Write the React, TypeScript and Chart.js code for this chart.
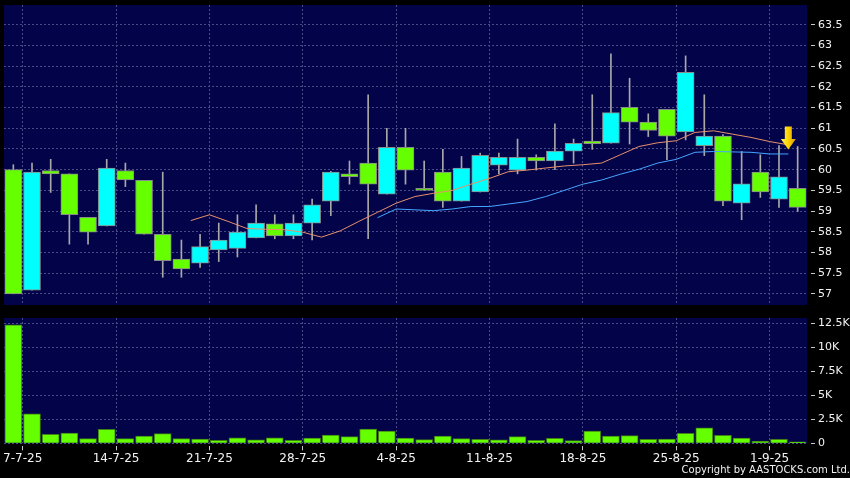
import React, { useEffect, useRef } from 'react';
import { Chart, registerables } from 'chart.js';

Chart.register(...registerables);

// ---------- data ----------
const DATES = [
  '7-7-25', '8-7-25', '9-7-25', '10-7-25', '11-7-25',
  '14-7-25', '15-7-25', '16-7-25', '17-7-25', '18-7-25',
  '21-7-25', '22-7-25', '23-7-25', '24-7-25', '25-7-25',
  '28-7-25', '29-7-25', '30-7-25', '31-7-25', '1-8-25',
  '4-8-25', '5-8-25', '6-8-25', '7-8-25', '8-8-25',
  '11-8-25', '12-8-25', '13-8-25', '14-8-25', '15-8-25',
  '18-8-25', '19-8-25', '20-8-25', '21-8-25', '22-8-25',
  '25-8-25', '26-8-25', '27-8-25', '28-8-25', '29-8-25',
  '1-9-25', '2-9-25', '3-9-25',
];

const OPEN = [
  60.0, 57.09, 59.98, 59.9, 58.85, 58.64, 59.98, 59.74, 58.44, 57.84,
  57.74, 58.06, 58.1, 58.35, 58.69, 58.4, 58.71, 59.24, 59.9, 60.16,
  59.41, 60.54, 59.55, 59.94, 59.24, 59.46, 60.11, 59.99, 60.3, 60.21,
  60.45, 60.69, 60.64, 61.51, 61.15, 61.46, 60.91, 60.58, 60.81, 59.19,
  59.94, 59.29, 59.55,
];
const HIGH = [
  60.12, 60.16, 60.25, 59.9, 58.85, 60.25, 60.16, 59.74, 59.94, 58.3,
  58.44, 58.71, 58.91, 59.15, 58.91, 58.91, 59.29, 59.96, 60.21, 61.81,
  61.0, 61.0, 60.21, 60.49, 60.32, 60.4, 60.4, 60.74, 60.36, 61.11,
  60.74, 61.81, 62.8, 62.21, 61.35, 61.46, 62.75, 61.81, 60.85, 60.44,
  60.36, 60.58, 60.56,
];
const LOW = [
  57.0, 57.09, 59.45, 58.2, 58.2, 58.64, 59.59, 58.44, 57.4, 57.4,
  57.64, 57.78, 57.89, 58.35, 58.33, 58.33, 58.3, 58.89, 59.65, 58.33,
  59.41, 59.65, 59.5, 59.09, 59.24, 59.46, 59.9, 59.9, 59.99, 60.0,
  60.16, 60.49, 60.64, 60.62, 60.8, 60.24, 60.72, 60.34, 59.13, 58.79,
  59.33, 59.09, 58.99,
];
const CLOSE = [
  57.0, 59.94, 59.9, 58.91, 58.49, 60.04, 59.75, 58.44, 57.8, 57.6,
  58.14, 58.3, 58.49, 58.71, 58.4, 58.71, 59.15, 59.94, 59.83, 59.65,
  60.54, 59.99, 59.5, 59.24, 60.04, 60.35, 60.3, 60.3, 60.21, 60.45,
  60.64, 60.63, 61.38, 61.15, 60.95, 60.81, 62.35, 60.81, 59.24, 59.66,
  59.46, 59.83, 59.09,
];
const VOLUME = [
  12320, 3050, 930, 1070, 490, 1450, 490, 760, 1000, 490,
  450, 310, 580, 350, 580, 310, 550, 860, 690, 1490,
  1280, 550, 380, 760, 490, 420, 350, 690, 310, 520,
  270, 1280, 760, 800, 420, 450, 1040, 1600, 830, 550,
  210, 420, 140,
];

const MA10_START = 9;
const MA10 = [
  58.77, 58.91, 58.75, 58.58, 58.56, 58.55, 58.49, 58.37, 58.52, 58.75,
  58.97, 59.19, 59.35, 59.43, 59.5, 59.65, 59.79, 59.95, 59.99, 60.04,
  60.09, 60.12, 60.16, 60.36, 60.56, 60.65, 60.7, 60.9, 60.94, 60.86,
  60.78, 60.68, 60.6,
];
const MA20_START = 19;
const MA20 = [
  58.84, 59.05, 59.03, 59.01, 59.05, 59.11, 59.11, 59.17, 59.23, 59.35,
  59.5, 59.65, 59.75, 59.89, 60.01, 60.16, 60.25, 60.42, 60.44, 60.43,
  60.42, 60.38, 60.38,
];

const WEEK_TICKS = [0, 5, 10, 15, 20, 25, 30, 35, 40];
const PRICE_TICKS = [57, 57.5, 58, 58.5, 59, 59.5, 60, 60.5, 61, 61.5, 62, 62.5, 63, 63.5];
const VOLUME_TICKS = [0, 2500, 5000, 7500, 10000, 12500];

const ARROW_INDEX = 41;
const ARROW_PRICE = 60.49;

const COPYRIGHT = 'Copyright by AASTOCKS.com Ltd.';

// ---------- axis ranges & styles ----------
const X_MIN = -1;
const X_MAX = 42;
const CANDLE_SHIFT = -0.5;
const PRICE_MIN = 56.73;
const PRICE_MAX = 63.98;
const VOLUME_MIN = 0;
const VOLUME_MAX = 13020;

const PLOT_BG = '#03034a';
const GRID = '#4a4a86';
const TICK = '#c8c8c8';
const TEXT = '#f2f2f2';
const UP = '#00ffff';
const DOWN = '#66ff00';
const BODY_BORDER = '#8a8a8a';
const WICK = '#a8a8a8';
const VOL_FILL = '#66ff00';
const VOL_BORDER = '#3f7f14';
const MA10_COLOR = '#e8906a';
const MA20_COLOR = '#45a6ff';

Chart.defaults.font.family = '"DejaVu Sans", sans-serif';

const plotBg = {
  id: 'plotBg',
  beforeDraw(chart: any) {
    const { ctx, chartArea: a } = chart;
    ctx.save();
    ctx.fillStyle = PLOT_BG;
    ctx.fillRect(a.left, a.top, a.right - a.left, a.bottom - a.top);
    ctx.restore();
  },
};

const arrowPlugin = {
  id: 'arrowMark',
  afterDatasetsDraw(chart: any) {
    const x = chart.scales.x.getPixelForValue(ARROW_INDEX);
    const tip = chart.scales.y.getPixelForValue(ARROW_PRICE);
    const ctx = chart.ctx;
    ctx.save();
    const g = ctx.createLinearGradient(x - 8, 0, x + 8, 0);
    g.addColorStop(0, '#fff37a');
    g.addColorStop(0.45, '#ffd800');
    g.addColorStop(1, '#d99500');
    ctx.beginPath();
    ctx.moveTo(x - 3.5, tip - 23);
    ctx.lineTo(x + 3.5, tip - 23);
    ctx.lineTo(x + 3.5, tip - 10.5);
    ctx.lineTo(x + 7.5, tip - 10.5);
    ctx.lineTo(x, tip);
    ctx.lineTo(x - 7.5, tip - 10.5);
    ctx.lineTo(x - 3.5, tip - 10.5);
    ctx.closePath();
    ctx.fillStyle = g;
    ctx.fill();
    ctx.restore();
  },
};

const weekTicks = (s: any) => {
  s.ticks = WEEK_TICKS.map((v) => ({ value: v }));
};

export default function App() {
  const priceRef = useRef<HTMLCanvasElement>(null);
  const volRef = useRef<HTMLCanvasElement>(null);

  useEffect(() => {
    document.body.style.margin = '0';
    document.body.style.background = '#000';

    const price = new Chart(priceRef.current as HTMLCanvasElement, {
      type: 'bar',
      data: {
        datasets: [
          {
            type: 'line',
            data: MA20.map((v, k) => ({ x: MA20_START + k, y: v })),
            borderColor: MA20_COLOR,
            borderWidth: 1,
            pointRadius: 0,
            tension: 0,
            order: 0,
          } as any,
          {
            type: 'line',
            data: MA10.map((v, k) => ({ x: MA10_START + k, y: v })),
            borderColor: MA10_COLOR,
            borderWidth: 1,
            pointRadius: 0,
            tension: 0,
            order: 1,
          } as any,
          {
            type: 'bar',
            data: DATES.map((_, i) => ({ x: i + CANDLE_SHIFT, y: [OPEN[i], CLOSE[i]] })),
            backgroundColor: (c: any) => (CLOSE[c.dataIndex] >= OPEN[c.dataIndex] ? UP : DOWN),
            borderColor: BODY_BORDER,
            borderWidth: 1,
            borderSkipped: false,
            barThickness: 17,
            grouped: false,
            order: 2,
          } as any,
          {
            type: 'bar',
            data: DATES.map((_, i) => ({ x: i + CANDLE_SHIFT, y: [LOW[i], HIGH[i]] })),
            backgroundColor: WICK,
            borderWidth: 0,
            barThickness: 1,
            grouped: false,
            order: 3,
          } as any,
        ],
      },
      options: {
        responsive: false,
        devicePixelRatio: 1,
        animation: false,
        layout: { padding: { left: 4, top: 5, right: 0, bottom: 0 } },
        plugins: { legend: { display: false }, tooltip: { enabled: false }, title: { display: false } },
        scales: {
          x: {
            type: 'linear',
            min: X_MIN,
            max: X_MAX,
            offset: false,
            grid: { offset: false, color: GRID, drawTicks: false },
            border: { display: false, dash: [2, 2] },
            ticks: { display: false },
            afterBuildTicks: weekTicks,
            afterFit: (s: any) => {
              s.height = 5;
              s.paddingLeft = 0;
              s.paddingRight = 0;
            },
          },
          y: {
            type: 'linear',
            position: 'right',
            min: PRICE_MIN,
            max: PRICE_MAX,
            grid: { color: GRID, tickColor: TICK, tickLength: 8, tickBorderDash: [0, 4, 4] },
            border: { display: false, dash: [2, 2] },
            ticks: {
              color: TEXT,
              font: { size: 11 },
              padding: 3,
              autoSkip: false,
              callback: (v: any) => String(v),
            },
            afterBuildTicks: (s: any) => {
              s.ticks = PRICE_TICKS.map((v) => ({ value: v }));
            },
            afterFit: (s: any) => {
              s.width = 43;
              s.paddingTop = 0;
              s.paddingBottom = 0;
            },
          },
        },
      } as any,
      plugins: [plotBg, arrowPlugin],
    });

    const vol = new Chart(volRef.current as HTMLCanvasElement, {
      type: 'bar',
      data: {
        datasets: [
          {
            data: DATES.map((_, i) => ({ x: i + CANDLE_SHIFT, y: VOLUME[i] })),
            backgroundColor: VOL_FILL,
            borderColor: VOL_BORDER,
            borderWidth: 1,
            barThickness: 17,
            grouped: false,
          } as any,
        ],
      },
      options: {
        responsive: false,
        devicePixelRatio: 1,
        animation: false,
        layout: { padding: { left: 4, top: 8, right: 0, bottom: 0 } },
        plugins: {
          legend: { display: false },
          tooltip: { enabled: false },
          title: {
            display: true,
            text: COPYRIGHT,
            position: 'bottom',
            align: 'end',
            color: TEXT,
            font: { size: 10, weight: 'normal' },
            padding: { top: 0, bottom: 2 },
          },
        },
        scales: {
          x: {
            type: 'linear',
            min: X_MIN,
            max: X_MAX,
            offset: false,
            grid: { offset: false, color: GRID, tickColor: TICK, tickLength: 7, tickBorderDash: [0, 3, 4] },
            border: { display: false, dash: [2, 2] },
            ticks: {
              color: TEXT,
              font: { size: 12 },
              padding: 1,
              autoSkip: false,
              maxRotation: 0,
              callback: (v: any) => DATES[v],
            },
            afterBuildTicks: weekTicks,
            afterFit: (s: any) => {
              s.height = 20.7;
              s.paddingLeft = 0;
              s.paddingRight = 0;
            },
          },
          y: {
            type: 'linear',
            position: 'right',
            min: VOLUME_MIN,
            max: VOLUME_MAX,
            grid: { color: GRID, tickColor: TICK, tickLength: 8, tickBorderDash: [0, 4, 4] },
            border: { display: false, dash: [2, 2] },
            ticks: {
              color: TEXT,
              font: { size: 11 },
              padding: 3,
              autoSkip: false,
              callback: (v: any) => (v === 0 ? '0' : v / 1000 + 'K'),
            },
            afterBuildTicks: (s: any) => {
              s.ticks = VOLUME_TICKS.map((v) => ({ value: v }));
            },
            afterFit: (s: any) => {
              s.width = 43;
              s.paddingTop = 0;
              s.paddingBottom = 0;
            },
          },
        },
      } as any,
      plugins: [plotBg],
    });

    return () => {
      price.destroy();
      vol.destroy();
    };
  }, []);

  return (
    <div style={{ position: 'relative', width: 850, height: 478, background: '#000', overflow: 'hidden' }}>
      <canvas ref={priceRef} width={850} height={310} style={{ position: 'absolute', left: 0, top: 0 }} />
      <canvas ref={volRef} width={850} height={168} style={{ position: 'absolute', left: 0, top: 310 }} />
    </div>
  );
}
